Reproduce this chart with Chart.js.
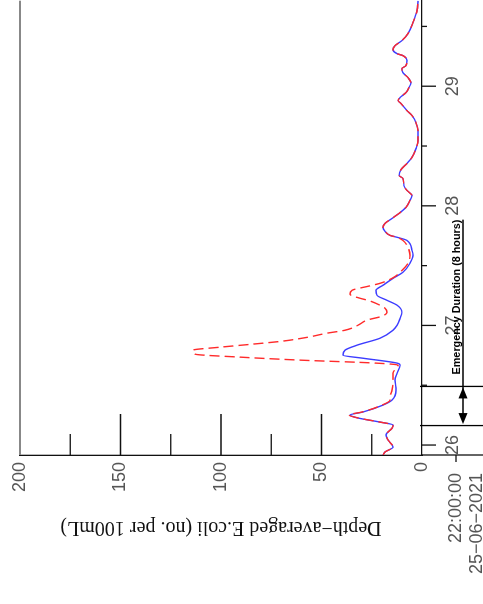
<!DOCTYPE html>
<html>
<head>
<meta charset="utf-8">
<script src="https://cdn.jsdelivr.net/npm/chart.js@4.4.1/dist/chart.umd.min.js"></script>
<style>
html, body { margin: 0; padding: 0; background: #fff; overflow: hidden; }
/* the chart is drawn landscape, then turned a quarter to the left like the scan */
#wrap { position: absolute; left: 0; top: 0; width: 604px; height: 483px;
        transform-origin: 0 0; transform: translate(0, 604px) rotate(-90deg); }
</style>
</head>
<body>
<div id="wrap"><canvas id="content"></canvas></div>
<script>
// time in days of June 2021 (26 = 26-06 00:00), values in no. per 100mL
var baseTimes = [25.917, 25.942, 25.983, 26.042, 26.084, 26.142, 26.167, 26.192, 26.226, 26.251,
    26.276, 26.334, 26.376, 26.459, 26.543, 26.601, 26.668, 26.685, 26.726, 26.751,
    26.793, 26.835, 26.893, 26.960, 27.002, 27.060, 27.110, 27.169, 27.210, 27.252,
    27.294, 27.336, 27.394, 27.444, 27.519, 27.586, 27.628, 27.711, 27.737, 27.753,
    27.787, 27.820, 27.853, 27.895, 27.937, 27.987, 28.045, 28.087, 28.129, 28.170,
    28.229, 28.254, 28.304, 28.354, 28.404, 28.479, 28.546, 28.630, 28.696, 28.755,
    28.796, 28.855, 28.880, 28.905, 28.947, 28.988, 29.030, 29.072, 29.114, 29.147,
    29.172, 29.214, 29.256, 29.272, 29.306, 29.339, 29.381, 29.439, 29.531, 29.631, 29.715];
var baseValues = [19.4, 18.4, 14.4, 16.9, 17.9, 14.9, 14.4, 20.9, 31.8, 35.8,
    29.4, 19.4, 14.9, 12.9, 13.4, 12.4, 10.9, 12.4, 29.4, 39.3,
    38.3, 32.3, 20.9, 14.4, 12.4, 10.9, 10.0, 12.4, 17.4, 22.4,
    22.9, 19.4, 14.4, 9.5, 6.0, 4.5, 5.0, 7.5, 12.4, 15.9,
    18.4, 19.4, 18.4, 14.9, 11.4, 8.0, 6.0, 5.0, 7.5, 9.0,
    9.5, 11.4, 10.4, 7.5, 5.0, 3.0, 2.0, 2.0, 3.0, 5.0,
    7.5, 10.4, 11.9, 10.9, 8.0, 6.5, 5.5, 7.0, 9.5, 10.0,
    8.0, 7.5, 9.5, 12.4, 14.4, 13.4, 10.0, 7.0, 4.5, 2.5, 2.0];

var emergTimes = [25.917, 25.942, 25.983, 26.042, 26.084, 26.142, 26.167, 26.192, 26.226, 26.251,
    26.276, 26.334, 26.376, 26.401, 26.459, 26.543, 26.601, 26.643, 26.668, 26.685,
    26.710, 26.735, 26.760, 26.793, 26.818, 26.843, 26.868, 26.902, 26.935, 26.960,
    27.002, 27.044, 27.077, 27.110, 27.144, 27.169, 27.210, 27.227, 27.261, 27.294,
    27.327, 27.352, 27.394, 27.444, 27.519, 27.586, 27.653, 27.711, 27.737, 27.753,
    27.787, 27.820, 27.853, 27.895, 27.937, 27.987, 28.045, 28.087, 28.129, 28.170,
    28.229, 28.254, 28.304, 28.354, 28.404, 28.479, 28.546, 28.630, 28.696, 28.755,
    28.796, 28.855, 28.880, 28.905, 28.947, 28.988, 29.030, 29.072, 29.114, 29.147,
    29.172, 29.214, 29.256, 29.272, 29.306, 29.339, 29.381, 29.439, 29.531, 29.631, 29.715];
var emergValues = [19.4, 18.4, 14.4, 16.9, 17.9, 14.9, 14.4, 20.9, 31.8, 36.3,
    29.9, 19.9, 15.9, 15.9, 14.9, 14.4, 14.4, 12.9, 11.9, 22.9,
    60.7, 90.5, 112.9, 113.9, 100.5, 84.6, 69.7, 56.7, 47.3, 38.3,
    31.8, 27.4, 19.9, 17.4, 18.4, 20.9, 26.9, 30.8, 35.8, 34.8,
    26.9, 20.9, 14.9, 10.9, 7.0, 6.0, 7.0, 9.5, 12.4, 15.9,
    18.4, 19.4, 18.4, 14.9, 11.4, 8.0, 6.0, 5.0, 7.5, 9.0,
    9.5, 11.4, 10.4, 7.5, 5.0, 3.0, 2.0, 2.0, 3.0, 5.0,
    7.5, 10.4, 11.9, 10.9, 8.0, 6.5, 5.5, 7.0, 9.5, 10.0,
    8.0, 7.5, 9.5, 12.4, 14.4, 13.4, 10.0, 7.0, 4.5, 2.5, 2.0];

var dayTicks = [26, 26.5, 27, 27.5, 28, 28.5, 29, 29.5];
var valueTicks = [0, 25, 50, 75, 100, 125, 150, 175, 200];
var startLabels = ['22:00:00', '25\u221206\u22122021'];
var yTitle = 'Depth\u2212averaged E.coli (no. per 100mL)';
var emergencyText = 'Emergency Duration (8 hours)';
var emergencyStart = 26.167;
var emergencyEnd = 26.49;
var timeStart = 25.9167;
var timeEnd = 29.715;

function points(xs, ys) {
    var out = [];
    xs.forEach(function (t, i) { out.push({x: t, y: ys[i]}); });
    return out;
}

function line(ctx, x1, y1, x2, y2) {
    ctx.beginPath();
    ctx.moveTo(x1, y1);
    ctx.lineTo(x2, y2);
    ctx.stroke();
}

var decor = {
    id: 'decor',
    afterDraw: function (chart) {
        var ctx = chart.ctx, a = chart.chartArea;
        var xs = chart.scales.x, ys = chart.scales.y;
        var H = chart.height;
        ctx.save();

        // frame line at 200
        ctx.strokeStyle = '#888';
        ctx.lineWidth = 2;
        line(ctx, a.left, ys.getPixelForValue(200), a.right, ys.getPixelForValue(200));

        ctx.strokeStyle = '#111';
        ctx.lineWidth = 1.3;
        // value axis runs on below the time axis
        line(ctx, a.left, a.bottom, a.left, H);

        // value ticks point into the plot
        valueTicks.forEach(function (v) {
            if (v === 0 || v === 200) return;
            var py = ys.getPixelForValue(v);
            var len = v % 50 === 0 ? 41 : 21;
            line(ctx, a.left, py, a.left + len, py);
        });

        // time ticks point outwards
        dayTicks.forEach(function (d) {
            var px = xs.getPixelForValue(d);
            var len = Number.isInteger(d) ? 14 : 5;
            line(ctx, px, a.bottom, px, a.bottom + len);
        });

        // start of the record
        ctx.fillStyle = '#555';
        ctx.font = '18px "Liberation Sans"';
        ctx.textAlign = 'right';
        ctx.textBaseline = 'middle';
        ctx.fillText(startLabels[0], a.left - 18, 456);
        ctx.fillText(startLabels[1], a.left - 18, 477);
        line(ctx, a.left, 456, a.left - 7, 456);

        // emergency window
        var e0 = xs.getPixelForValue(emergencyStart);
        var e1 = xs.getPixelForValue(emergencyEnd);
        ctx.strokeStyle = '#000';
        ctx.lineWidth = 1.3;
        line(ctx, e0 - 0.5, a.bottom - 2, e0 - 0.5, H);
        line(ctx, e1, a.bottom - 2, e1, H);
        var ay = 463;
        ctx.font = 'bold 10.8px "Liberation Sans"';
        ctx.textAlign = 'left';
        ctx.textBaseline = 'alphabetic';
        ctx.fillStyle = '#000';
        var tx = e1 + 12;
        ctx.fillText(emergencyText, tx, ay - 3);
        var tw = ctx.measureText(emergencyText).width;
        ctx.lineWidth = 1.5;
        line(ctx, e0 + 8, ay, tx + tw, ay);
        ctx.beginPath();
        ctx.moveTo(e0 + 1, ay);
        ctx.lineTo(e0 + 12, ay - 4.5);
        ctx.lineTo(e0 + 12, ay + 4.5);
        ctx.closePath();
        ctx.fill();
        ctx.beginPath();
        ctx.moveTo(e1 - 1, ay);
        ctx.lineTo(e1 - 12, ay - 4.5);
        ctx.lineTo(e1 - 12, ay + 4.5);
        ctx.closePath();
        ctx.fill();

        // value axis title
        ctx.translate(77, (a.top + a.bottom) / 2);
        ctx.rotate(-Math.PI / 2);
        ctx.font = '20px "Liberation Serif"';
        ctx.textAlign = 'center';
        ctx.textBaseline = 'middle';
        ctx.fillStyle = '#111';
        ctx.fillText(yTitle, 0, 0);
        ctx.restore();
    }
};

Chart.defaults.font.family = '"Liberation Sans", Arial, sans-serif';

var ctx = document.getElementById("content").getContext("2d");
new Chart(ctx, {
    type: 'line',
    data: {
        datasets: [{
            label: 'With emergency discharge',
            data: points(emergTimes, emergValues),
            borderColor: '#ff2a2a',
            borderWidth: 1.4,
            borderDash: [10, 5],
            pointRadius: 0,
            cubicInterpolationMode: 'monotone'
        }, {
            label: 'Without emergency discharge',
            data: points(baseTimes, baseValues),
            borderColor: '#3c3cff',
            borderWidth: 1.4,
            pointRadius: 0,
            cubicInterpolationMode: 'monotone'
        }]
    },
    options: {
        responsive: true,
        maintainAspectRatio: false,
        animation: false,
        layout: {padding: {top: 20, right: 0, left: 0, bottom: 0}},
        plugins: {legend: {display: false}, tooltip: {enabled: false}},
        scales: {
            x: {
                type: 'linear',
                min: timeStart,
                max: timeEnd,
                afterBuildTicks: function (scale) {
                    scale.ticks = dayTicks.map(function (d) { return {value: d}; });
                },
                afterFit: function (scale) { scale.height = 61; },
                grid: {display: false, drawTicks: false},
                border: {display: true, color: '#111', width: 1.3},
                ticks: {
                    padding: 20,
                    color: '#555',
                    font: {size: 18},
                    maxRotation: 0,
                    autoSkip: false,
                    callback: function (v) { return Number.isInteger(v) ? String(v) : ''; }
                }
            },
            y: {
                min: 0,
                max: 200,
                afterBuildTicks: function (scale) {
                    scale.ticks = valueTicks.map(function (v) { return {value: v}; });
                },
                afterFit: function (scale) { scale.width = 149; },
                grid: {display: false, drawTicks: false},
                border: {display: true, color: '#111', width: 1.3},
                ticks: {
                    padding: 7,
                    color: '#555',
                    font: {size: 18},
                    callback: function (v) { return v % 50 === 0 ? String(v) : ''; }
                }
            }
        }
    },
    plugins: [decor]
});
</script>
</body>
</html>
